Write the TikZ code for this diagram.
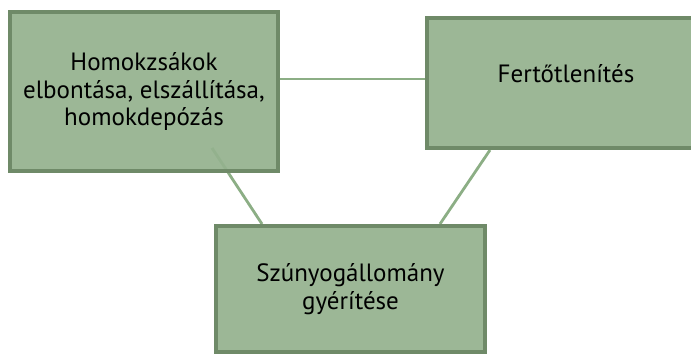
\documentclass[tikz,border=0pt]{standalone}
\usepackage{fontspec}
\setmainfont{PT Sans}
\usepackage{tikz}
\usetikzlibrary{backgrounds}

\definecolor{boxfill}{RGB}{148,178,142}
\definecolor{boxline}{RGB}{111,138,104}
\definecolor{linkline}{RGB}{140,174,133}

\begin{document}
\begin{tikzpicture}[x=1pt,y=-1pt,
  stepbox/.style={draw=boxline,line width=4pt,fill=boxfill,fill opacity=0.93,
    text opacity=1,align=center,inner sep=0pt,
    font=\fontsize{25}{27.5}\selectfont},
  link/.style={draw=linkline,line width=2.8pt}]
\clip (0,0) rectangle (691,356);
\node[stepbox,minimum width=268,minimum height=159] (A) at (144,91.5)
  {Homokzsákok\\elbontása, elszállítása,\\homokdepózás};
\node[stepbox,minimum width=278,minimum height=130,text height=21pt,text depth=23pt] (B) at (566,83)
  {Fertőtlenítés};
\node[stepbox,minimum width=269,minimum height=126] (C) at (350.5,289)
  {Szúnyogállomány\\gyérítése};
% connector ends
\coordinate (ab) at (0,79);
\coordinate (ac) at (212,148);
\coordinate (ca) at (262,0);
\coordinate (bc) at (490,0);
\coordinate (cb) at (440,0);
\begin{scope}[on background layer]
\draw[link] (A.east |- ab) -- (B.west |- ab);
\draw[link] (ac) -- (C.north -| ca);
\draw[link] (B.south -| bc) -- (C.north -| cb);
\end{scope}
\end{tikzpicture}
\end{document}
